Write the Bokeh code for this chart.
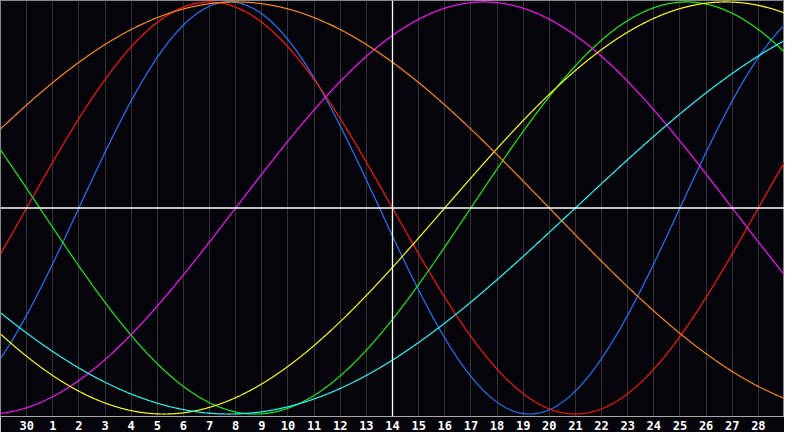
import numpy as np
from bokeh.plotting import figure
from bokeh.models import Range1d, FixedTicker, Span, ColumnDataSource
from bokeh.embed import file_html
from bokeh.resources import INLINE

# Biorhythm cycles
cycle_names = ["Physical", "Emotional", "Intellectual", "Intuitive", "Aesthetic", "Awareness", "Spiritual"]
cycle_periods = [23, 28, 33, 38, 43, 48, 53]          # days per cycle
cycle_rising_zero = [3, 1, 18, 9, 17, -3, 22]          # chart day index where each cycle crosses zero upward
cycle_colors = ["#2277ff", "#ff1414", "#18f018", "#ff10ff", "#ffff10", "#ff8a14", "#20ffff"]

# Day axis: index 0..30, labels under each day line
day_ticks = [1, 2, 3, 4, 5, 6, 7, 8, 9, 10, 11, 12, 13, 14, 15, 16, 17, 18, 19, 20,
             21, 22, 23, 24, 25, 26, 27, 28, 29]
day_labels = ["30", "1", "2", "3", "4", "5", "6", "7", "8", "9", "10", "11", "12", "13", "14",
              "15", "16", "17", "18", "19", "20", "21", "22", "23", "24", "25", "26", "27", "28"]
today_index = 15

bg = "#05040a"
p = figure(width=784, height=432, x_range=Range1d(0, 30), y_range=Range1d(-1.012, 1.007),
           output_backend="svg", toolbar_location=None, min_border=0,
           min_border_left=0, min_border_right=0, min_border_top=0,
           background_fill_color=bg, border_fill_color=bg, y_axis_location=None)

p.outline_line_color = "#8a8a8a"
p.outline_line_width = 1

# grid
p.ygrid.visible = False
p.xgrid.ticker = FixedTicker(ticks=list(range(0, 31)))
p.xgrid.grid_line_color = "#333333"
p.xgrid.grid_line_width = 1

# x axis
p.xaxis.ticker = FixedTicker(ticks=day_ticks)
p.xaxis.major_label_overrides = {t: l for t, l in zip(day_ticks, day_labels)}
p.xaxis.major_tick_line_color = None
p.xaxis.minor_tick_line_color = None
p.xaxis.major_tick_out = 0
p.xaxis.major_tick_in = 0
p.xaxis.axis_line_color = "#a8a8a8"
p.xaxis.axis_line_width = 1
p.xaxis.major_label_standoff = 4
p.xaxis.major_label_text_color = "white"
p.xaxis.major_label_text_font = "DejaVu Sans Mono"
p.xaxis.major_label_text_font_style = "bold"
p.xaxis.major_label_text_font_size = "12px"

# curves
xs = np.linspace(0, 30, 1501)
for name, per, z, col in zip(cycle_names, cycle_periods, cycle_rising_zero, cycle_colors):
    ys = np.sin(2 * np.pi * (xs - z) / per)
    src = ColumnDataSource(dict(x=xs, y=ys))
    p.line("x", "y", source=src, line_color=col, line_width=1.2)

p.add_layout(Span(location=0, dimension="width", line_color="white", line_width=1.3))
p.add_layout(Span(location=today_index, dimension="height", line_color="white", line_width=1.3))

open("out.html", "w").write(file_html(p, INLINE))
